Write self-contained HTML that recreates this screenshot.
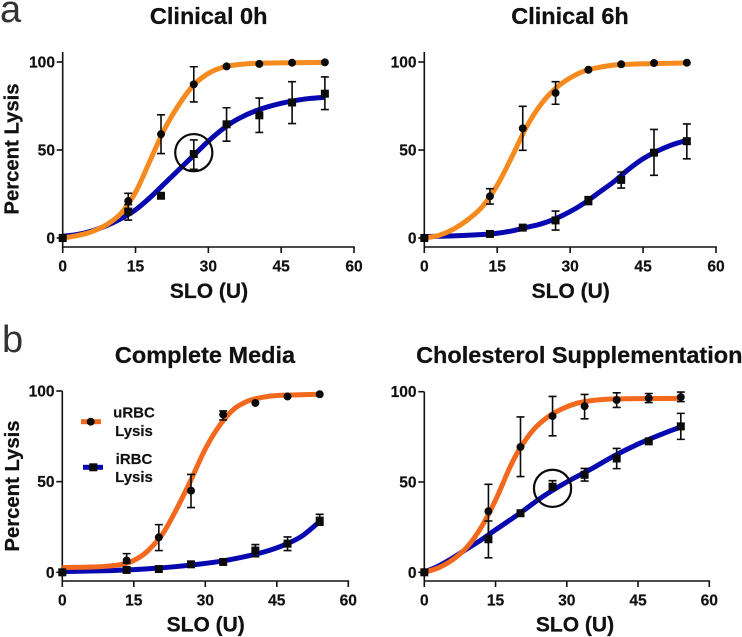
<!DOCTYPE html>
<html lang="en">
<head>
<meta charset="utf-8">
<title>Percent Lysis vs SLO</title>
<style>
html,body{margin:0;padding:0;background:#fff;overflow:hidden;}
svg{display:block;filter:blur(0.35px);}
text{font-family:"Liberation Sans",sans-serif;fill:#111;}
.title{font-weight:bold;font-size:23.5px;text-anchor:middle;stroke:#111;stroke-width:.25px;}
.axt{font-weight:bold;font-size:21px;text-anchor:middle;stroke:#111;stroke-width:.25px;}
.ylab{font-weight:bold;font-size:20.3px;text-anchor:middle;stroke:#111;stroke-width:.25px;}
.tick{font-weight:bold;font-size:15.6px;stroke:#111;stroke-width:.2px;}
.leg{font-weight:bold;font-size:15px;text-anchor:middle;stroke:#111;stroke-width:.15px;}
.panel{font-size:38px;fill:#333;}
</style>
</head>
<body>
<svg id="figure" xmlns="http://www.w3.org/2000/svg" width="742" height="637" viewBox="0 0 742 637">
  <text class="panel" x="0" y="22">a</text>
  <text class="panel" x="2" y="352">b</text>

  <text class="title" x="208.7" y="24">Clinical 0h</text>
  <text class="title" x="570" y="24">Clinical 6h</text>
  <text class="title" x="205" y="363">Complete Media</text>
  <text class="title" x="579.3" y="363">Cholesterol Supplementation</text>

  <text class="ylab" transform="translate(18.5,149) rotate(-90)">Percent Lysis</text>
  <text class="ylab" transform="translate(19,486) rotate(-90)">Percent Lysis</text>

  <text class="axt" x="209" y="298">SLO (U)</text>
  <text class="axt" x="570.7" y="298">SLO (U)</text>
  <text class="axt" x="205.7" y="631.5">SLO (U)</text>
  <text class="axt" x="575" y="631.5">SLO (U)</text>

  <g id="plots"></g>

  <g>
    <rect x="81" y="419.2" width="20" height="5" fill="#f2691e"></rect>
    <circle cx="90.7" cy="421.7" r="4" fill="#0b0b0b"></circle>
    <text class="leg" x="134" y="417.5">uRBC</text>
    <text class="leg" x="134" y="436">Lysis</text>
    <rect x="83" y="464.8" width="20" height="5" fill="#0808b0"></rect>
    <rect x="89.3" y="463.3" width="8" height="8" fill="#0b0b0b"></rect>
    <text class="leg" x="134" y="464">iRBC</text>
    <text class="leg" x="134" y="482">Lysis</text>
  </g>
</svg>

<script>
// ---- shared data ----
const doses = [0, 13.5, 20.25, 27, 33.75, 40.5, 47.25, 54];
const xTickLabels = [0, 15, 30, 45, 60];
const yTickLabels = [0, 50, 100];

// ---- Clinical 0h ----
const c0U = [0, 21, 59, 87.3, 97.5, 98.9, 99.6, 99.8];
const c0UHigh = [null, 25.4, 70, 97.3, null, null, null, null];
const c0ULow = [null, 16.3, 48, 77.3, null, null, null, null];
const c0I = [0, 15, 24, 47.7, 64.6, 69.7, 77, 82];
const c0IHigh = [null, 19, null, 55.7, 74, 79.5, 88.8, 91.5];
const c0ILow = [null, 10.2, null, 39, 55, 60, 65, 73];
const c0UFitX = [0, 3, 6, 9, 12, 15, 18, 21, 24, 27, 30, 33, 36, 40, 54];
const c0UFit = [0, 1.4, 3.6, 7.5, 14, 26, 44, 62, 76, 87, 93.5, 97, 98.5, 99.3, 99.8];
const c0IFitX = [0, 3, 6, 9, 12, 15, 18, 21, 24, 27, 30, 33, 36, 40, 45, 50, 54];
const c0IFit = [1, 2, 4, 7, 11, 16, 23, 31, 39, 47, 55, 62, 67.5, 72.5, 76.5, 79, 80];

// ---- Clinical 6h ----
const c6U = [0, 23.7, 62.3, 82.4, 95.6, 98.7, 99.4, 99.6];
const c6UHigh = [null, 28, 74.8, 88.8, null, null, null, null];
const c6ULow = [null, 19.3, 49.8, 76, null, null, null, null];
const c6I = [0, 2.3, 5.9, 10, 21.2, 33, 48.5, 55];
const c6IHigh = [null, null, null, 15.3, 23.5, 37.5, 61.7, 64.8];
const c6ILow = [null, null, null, 4.5, 19, 28.4, 35.6, 45];
const c6UFitX = [0, 3, 6, 9, 12, 15, 18, 21, 24, 27, 30, 33, 36, 40, 54];
const c6UFit = [0, 1.5, 5, 10.5, 18, 30, 46, 63, 76, 85, 91, 95, 97, 98.5, 99.5];
const c6IFitX = [0, 6, 12, 15, 18, 21, 24, 27, 30, 33, 36, 39, 42, 45, 48, 51, 54];
const c6IFit = [0.8, 1.2, 2, 2.7, 4, 6, 8, 11, 15, 20, 26, 32, 39, 45, 49.5, 53, 55.5];

// ---- Complete Media ----
const cmU = [0, 6.5, 19.3, 45, 87, 93.4, 97, 98.2];
const cmUHigh = [null, 10.3, 26.3, 54, 89, null, null, null];
const cmULow = [null, 5, 12, 35.7, 84, null, null, null];
const cmI = [0, 1.3, 1.8, 4.4, 5.7, 12, 15.8, 28.5];
const cmIHigh = [null, null, null, null, null, 15.3, 19.5, 32];
const cmILow = [null, null, null, null, null, 8.6, 12, 26];
const cmUFitX = [0, 6, 10, 13.5, 16, 18, 21, 24, 27, 30, 33, 36, 39, 42, 45, 54];
const cmUFit = [2.6, 2.9, 3.5, 5, 8, 12, 21, 35, 51, 68, 81, 90, 94.5, 96.5, 97.5, 98.2];
const cmIFitX = [0, 10, 15, 20, 27, 33, 38, 42, 46, 50, 54];
const cmIFit = [0.4, 0.9, 1.5, 2.3, 4, 6, 8.5, 11, 14.5, 19.5, 28];

// ---- Cholesterol Supplementation ----
const csU = [0, 33.8, 69.4, 86.5, 92, 95.4, 96.5, 97];
const csUHigh = [null, 48.7, 86, 97.4, 98.5, 99.4, 99, 99.8];
const csULow = [null, 19, 53, 75.6, 85, 91.3, 94, 94.5];
const csI = [0, 18.3, 32.7, 47.4, 54, 63, 72.5, 80.8];
const csIHigh = [null, 28.4, null, 50.7, 57.5, 68.6, null, 88];
const csILow = [null, 8, null, 45.6, 50.5, 57.4, null, 73.6];
const csUFitX = [0, 3, 6, 9, 12, 15, 18, 20, 23, 26, 29, 32, 35, 40, 54];
const csUFit = [0, 2.5, 7, 14, 25, 40, 58, 68, 79, 86, 90.5, 93.5, 95, 96, 96.3];
const csIFitX = [0, 3, 6, 9, 12, 15, 20, 25, 30, 35, 40, 45, 50, 54];
const csIFit = [0, 3.5, 8, 13, 18, 23.5, 32.5, 42, 50, 57, 64.5, 71, 76.5, 80.5];

const NS = 'http://www.w3.org/2000/svg';
const root = document.getElementById('plots');

function make(tag, parent, attrs) {
  const node = document.createElementNS(NS, tag);
  for (const k in attrs) node.setAttribute(k, attrs[k]);
  parent.appendChild(node);
  return node;
}

function splinePath(xs, ys, sx, sy) {
  const p = xs.map((v, i) => [sx(v), sy(ys[i])]);
  let d = 'M' + p[0][0].toFixed(2) + ' ' + p[0][1].toFixed(2);
  for (let i = 0; i < p.length - 1; i++) {
    const a = p[Math.max(i - 1, 0)], b = p[i], c = p[i + 1], e = p[Math.min(i + 2, p.length - 1)];
    const h = (c[0] - b[0]) / 3;
    const m1 = (c[1] - a[1]) / (c[0] - a[0]);
    const m2 = (e[1] - b[1]) / (e[0] - b[0]);
    d += 'C' + (b[0] + h).toFixed(2) + ' ' + (b[1] + m1 * h).toFixed(2) + ' ' +
         (c[0] - h).toFixed(2) + ' ' + (c[1] - m2 * h).toFixed(2) + ' ' +
         c[0].toFixed(2) + ' ' + c[1].toFixed(2);
  }
  return d;
}

function drawErrors(g, values, high, low, sx, sy, label) {
  values.forEach((v, i) => {
    if (high[i] === null) return;
    const x = sx(doses[i]);
    const hi = sy(high[i]);
    const lo = sy(low[i]);
    const bar = make('path', g, {
      d: 'M' + (x - 4) + ' ' + hi + 'H' + (x + 4) + 'M' + x + ' ' + hi + 'V' + lo + 'M' + (x - 4) + ' ' + lo + 'H' + (x + 4),
      fill: 'none', stroke: '#0b0b0b', 'stroke-width': 1.6
    });
    
    
  });
}

function drawPanel(name, box, s) {
  const sx = v => box.x0 + (box.x60 - box.x0) * v / 60;
  const sy = v => box.y0 + (box.y100 - box.y0) * v / 100;
  const g = make('g', root, {});
  
  

  const yAxis = make('line', g, { x1: box.x0, x2: box.x0, y1: box.top, y2: box.base, stroke: '#111', 'stroke-width': 1.6 });
  
  
  const xAxis = make('line', g, { x1: box.x0 - 0.8, x2: box.x60 + 0.8, y1: box.base, y2: box.base, stroke: '#111', 'stroke-width': 1.6 });
  
  

  xTickLabels.forEach(t => {
    const mark = make('line', g, { x1: sx(t), x2: sx(t), y1: box.base, y2: box.base + 6, stroke: '#111', 'stroke-width': 1.6 });
    
    
    const lab = make('text', g, { x: sx(t), y: box.base + 24.5, class: 'tick', 'text-anchor': 'middle' });
    
    
    lab.textContent = t;
  });
  yTickLabels.forEach(t => {
    const mark = make('line', g, { x1: box.x0 - 6, x2: box.x0, y1: sy(t), y2: sy(t), stroke: '#111', 'stroke-width': 1.6 });
    
    
    const lab = make('text', g, { x: box.x0 - 7.7, y: sy(t) + 5.5, class: 'tick', 'text-anchor': 'end' });
    
    
    lab.textContent = t;
  });

  const blue = make('path', g, { d: splinePath(s.iFitX, s.iFit, sx, sy), fill: 'none', stroke: '#0808b0', 'stroke-width': 5 });
  
  
  const orange = make('path', g, { d: splinePath(s.uFitX, s.uFit, sx, sy), fill: 'none', stroke: box.orange, 'stroke-width': 5 });
  
  

  drawErrors(g, s.u, s.uHigh, s.uLow, sx, sy, 'urbc');
  drawErrors(g, s.i, s.iHigh, s.iLow, sx, sy, 'irbc');

  s.u.forEach((v, i) => {
    const dot = make('circle', g, { cx: sx(doses[i]), cy: sy(v), r: 4, fill: '#0b0b0b' });
    
    
  });
  s.i.forEach((v, i) => {
    const sq = make('rect', g, { x: sx(doses[i]) - 4, y: sy(v) - 4, width: 8, height: 8, fill: '#0b0b0b' });
    
    
  });

  if (s.ring) {
    const ring = make('circle', g, { cx: sx(s.ring[0]), cy: sy(s.ring[1]), r: 18.6, fill: 'none', stroke: '#0b0b0b', 'stroke-width': 2.2 });
    
    
  }
}

drawPanel('clinical-0h',
  { x0: 62.7, x60: 354, y0: 238, y100: 62, top: 52, base: 247, orange: '#f58a1f' },
  { u: c0U, uHigh: c0UHigh, uLow: c0ULow, i: c0I, iHigh: c0IHigh, iLow: c0ILow,
    uFitX: c0UFitX, uFit: c0UFit, iFitX: c0IFitX, iFit: c0IFit, ring: [27, 48.5] });
drawPanel('clinical-6h',
  { x0: 424.3, x60: 716, y0: 238, y100: 62, top: 52, base: 247, orange: '#f58a1f' },
  { u: c6U, uHigh: c6UHigh, uLow: c6ULow, i: c6I, iHigh: c6IHigh, iLow: c6ILow,
    uFitX: c6UFitX, uFit: c6UFit, iFitX: c6IFitX, iFit: c6IFit });
drawPanel('complete-media',
  { x0: 62.3, x60: 348.3, y0: 572.3, y100: 391, top: 391, base: 581, orange: '#f2691e' },
  { u: cmU, uHigh: cmUHigh, uLow: cmULow, i: cmI, iHigh: cmIHigh, iLow: cmILow,
    uFitX: cmUFitX, uFit: cmUFit, iFitX: cmIFitX, iFit: cmIFit });
drawPanel('cholesterol-supplementation',
  { x0: 424.3, x60: 709.3, y0: 572.3, y100: 391.7, top: 391.7, base: 581, orange: '#f2691e' },
  { u: csU, uHigh: csUHigh, uLow: csULow, i: csI, iHigh: csIHigh, iLow: csILow,
    uFitX: csUFitX, uFit: csUFit, iFitX: csIFitX, iFit: csIFit, ring: [27, 46.5] });
</script>
</body>
</html>
